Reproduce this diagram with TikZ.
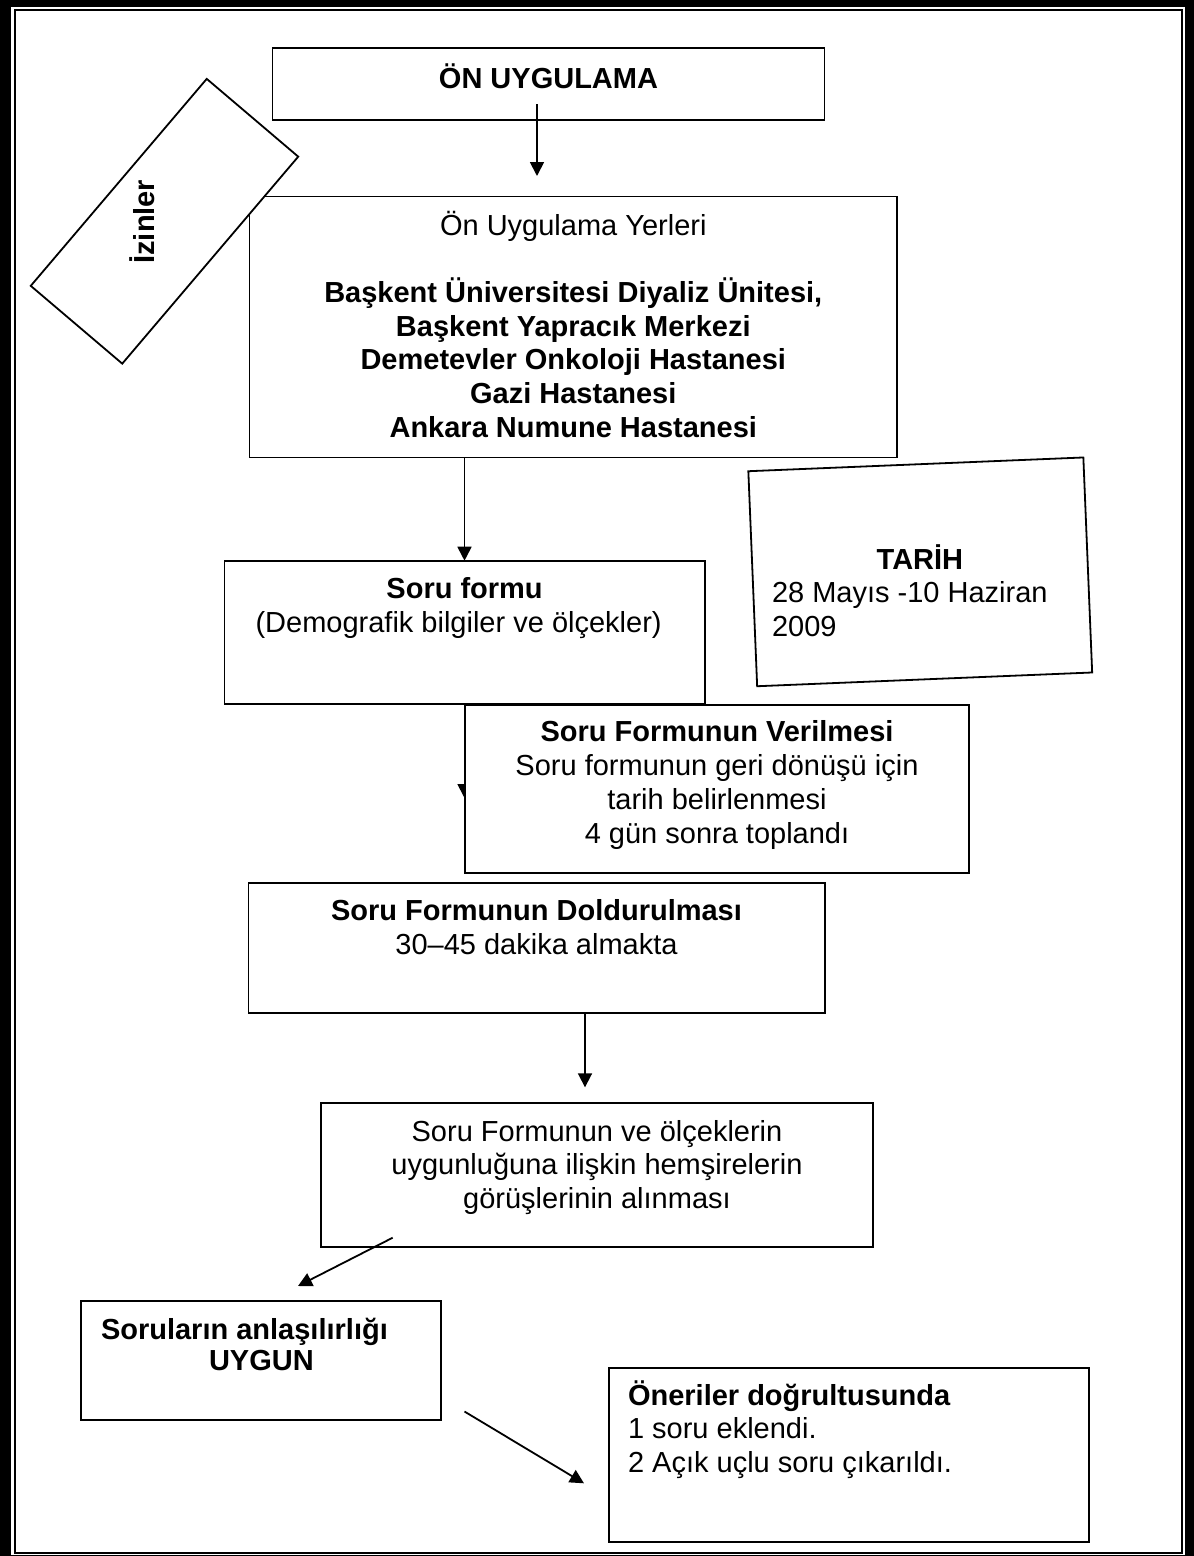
\documentclass[tikz,border=0pt]{standalone}
\usepackage{fontspec}
\setmainfont{Liberation Sans}
\usetikzlibrary{arrows.meta}
\newcommand\firststrut{\rule{0pt}{30pt}}
\begin{document}
\begin{tikzpicture}[x=1pt,y=-1pt,
  box/.style={draw, line width=1.8pt, fill=white, rectangle, inner sep=0pt, outer sep=0pt},
  txt/.style={inner sep=0pt, outer sep=0pt, font=\fontsize{29}{33.8}\selectfont},
  btxt/.style={inner sep=0pt, outer sep=0pt, font=\fontsize{29}{33.8}\selectfont\bfseries},
  arr/.style={line width=1.8pt, -{Triangle[length=14pt,width=14pt]}}
]
\useasboundingbox (0,0) rectangle (1194,1556);
% page frame
\fill[black] (0,0) rectangle (1194,1556);
\fill[white] (10.7,7.3) rectangle (1185,1554.7);
\draw[line width=2pt] (15,10.3) rectangle (1182,1552.7);

% ON UYGULAMA
\node[box, minimum width=552pt, minimum height=71.7pt] (onbox) at (548.5,84.2) {};
\node[btxt, anchor=north] (ontxt) at (548.5,58.3) {\firststrut ÖN UYGULAMA};
\coordinate (a1s) at (537,104);
\coordinate (a1e) at (537,176);
\draw[arr] (a1s) -- (a1e);

% Yerler
\node[box, minimum width=647.5pt, minimum height=261pt] (yerbox) at (573.25,327) {};
\node[txt, anchor=north, align=center, font=\fontsize{29}{33.6}\selectfont] (yertxt) at (573.3,205) {\firststrut Ön Uygulama Yerleri\\[34pt]
  \textbf{Başkent Üniversitesi Diyaliz Ünitesi,}\\
  \textbf{Başkent Yapracık Merkezi}\\
  \textbf{Demetevler Onkoloji Hastanesi}\\
  \textbf{Gazi Hastanesi}\\
  \textbf{Ankara Numune Hastanesi}};

% Izinler
\node[box, minimum width=271.7pt, minimum height=120.1pt, rotate=49.63] (izbox) at (164.5,221.25) {};
\node[btxt, anchor=base, rotate=90] (iztxt) at (154,221.7) {İzinler};

% TARIH
\node[box, minimum width=335.3pt, minimum height=215.2pt, rotate=2.35] (tarbox) at (920.25,571.85) {};
\node[txt, anchor=north west, align=left] (tartxt) at (772,539) {\firststrut\hspace*{104.7pt}\textbf{TARİH}\\28 Mayıs -10 Haziran\\2009};

% Soru formu
\coordinate (a2s) at (464.5,457.5);
\node[box, minimum width=480.5pt, minimum height=143.6pt] (sfbox) at (464.75,632.5) {};
\draw[arr] (a2s) -- (a2s |- sfbox.north);
\node[txt, anchor=north, align=center] (sftxt) at (464.6,568.3) {\firststrut\textbf{Soru formu}\\\hspace*{-12pt}(Demografik bilgiler ve ölçekler)};

% hidden arrow under Verilmesi box
\coordinate (a3s) at (464.5,704.3);
\coordinate (a3e) at (464.5,798);
\draw[arr] (a3s) -- (a3e);

% Verilmesi
\node[box, minimum width=504.3pt, minimum height=167.7pt] (verbox) at (717.15,788.85) {};
\node[txt, anchor=north, align=center] (vertxt) at (717,711.7) {\firststrut\textbf{Soru Formunun Verilmesi}\\Soru formunun geri dönüşü için\\tarih belirlenmesi\\4 gün sonra toplandı};

% Doldurulmasi
\node[box, minimum width=576.5pt, minimum height=130pt] (dolbox) at (536.75,947.7) {};
\node[txt, anchor=north, align=center] (doltxt) at (536.5,890.7) {\firststrut\textbf{Soru Formunun Doldurulması}\\30–45 dakika almakta};

\coordinate (a4s) at (585,1012.7);
\coordinate (a4e) at (585,1087.3);
\draw[arr] (a4s) -- (a4e);

% Gorusler
\node[box, minimum width=551.7pt, minimum height=143.7pt] (gorbox) at (596.85,1174.85) {};
\node[txt, anchor=north, align=center] (gortxt) at (597,1111) {\firststrut Soru Formunun ve ölçeklerin\\uygunluğuna ilişkin hemşirelerin\\görüşlerinin alınması};

\coordinate (a5s) at (392.7,1237.7);
\coordinate (a5e) at (298,1286);
\draw[arr] (a5s) -- (a5e);

% Anlasilirlik
\node[box, minimum width=360.4pt, minimum height=119.5pt] (anlbox) at (260.8,1360.4) {};
\node[txt, anchor=north west, align=left, font=\fontsize{29}{31}\selectfont] (anltxt) at (101,1309.3) {\firststrut\textbf{Soruların anlaşılırlığı}\\\hspace*{108pt}\textbf{UYGUN}};

\coordinate (a6s) at (464.5,1411.5);
\coordinate (a6e) at (584,1483.3);
\draw[arr] (a6s) -- (a6e);

% Oneriler
\node[box, minimum width=480pt, minimum height=174.6pt] (onerbox) at (849,1455) {};
\node[txt, anchor=north west, align=left] (onertxt) at (628,1375) {\firststrut\textbf{Öneriler doğrultusunda}\\1 soru eklendi.\\2 Açık uçlu soru çıkarıldı.};
\end{tikzpicture}
\end{document}
